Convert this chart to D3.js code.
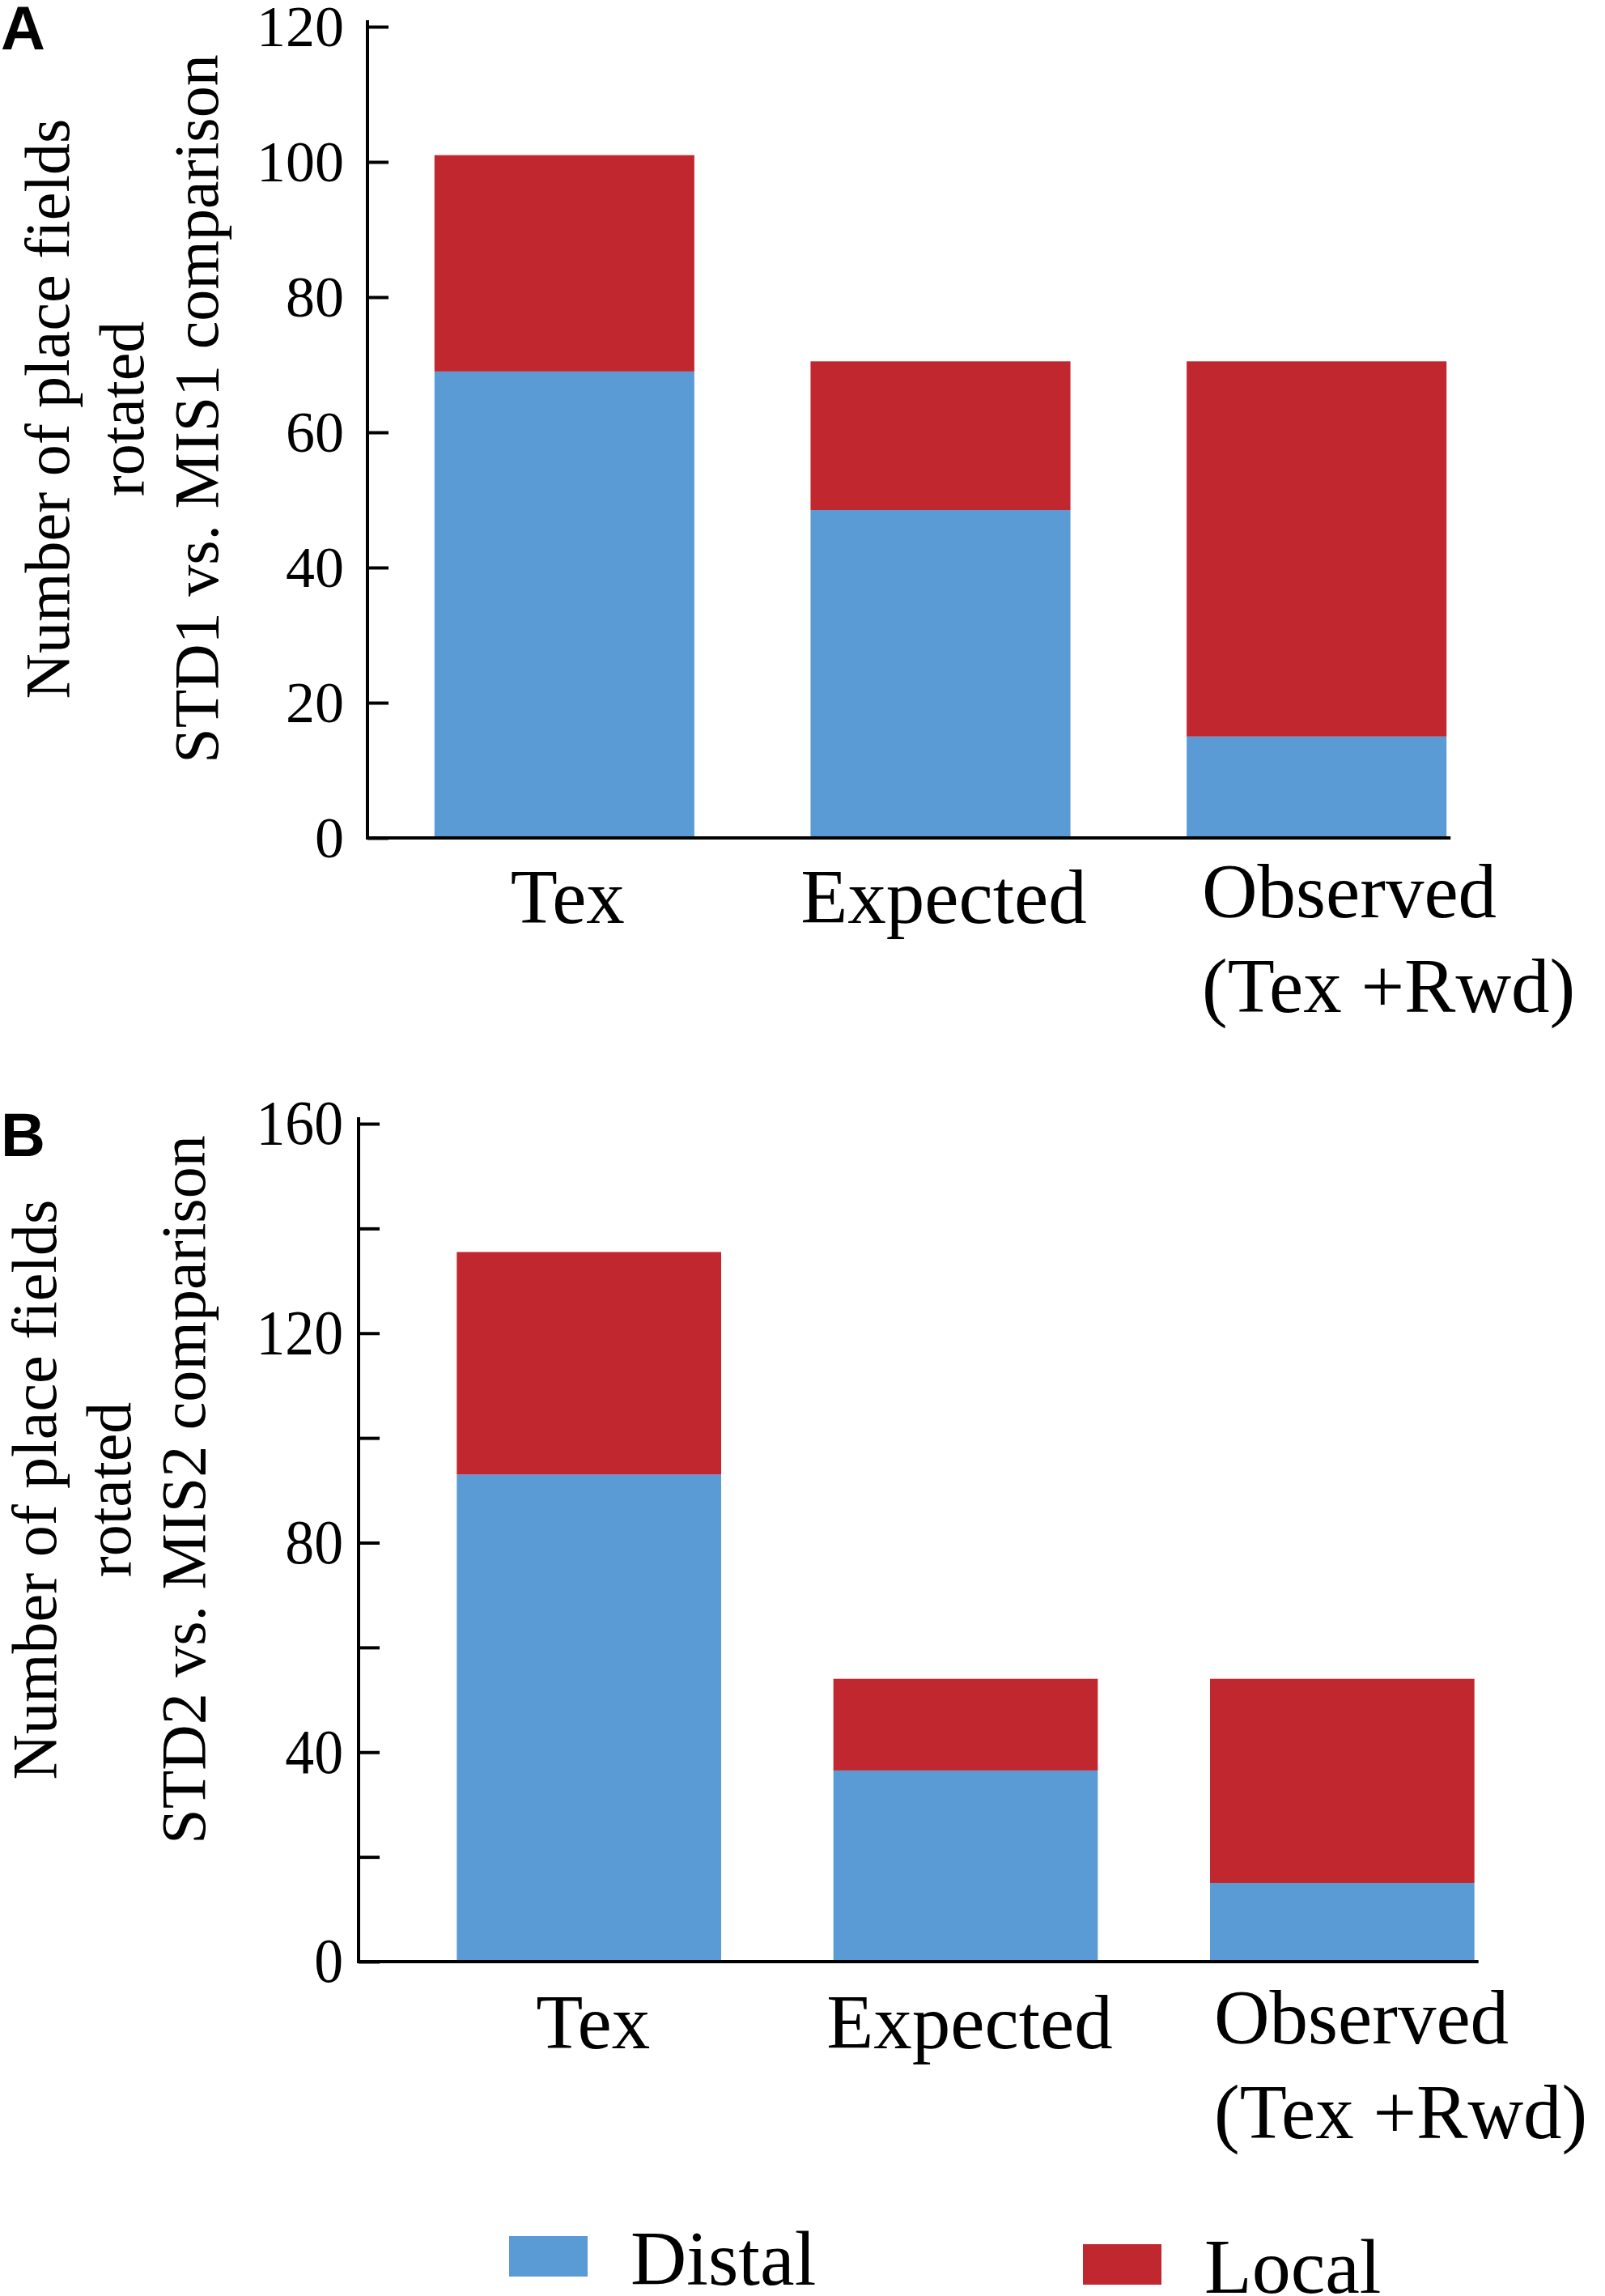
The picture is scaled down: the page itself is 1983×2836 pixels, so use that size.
<!DOCTYPE html>
<html>
<head>
<meta charset="utf-8">
<script src="https://cdn.jsdelivr.net/npm/d3@7"></script>
<style>
  html, body { margin: 0; padding: 0; background: #fff; }
  svg { display: block; }
  text { font-family: "Liberation Serif", "Times New Roman", serif; fill: #000; }
</style>
</head>
<body>
<svg id="chart" width="1983" height="2836"></svg>
<script>
// categories and series
var categories = ["Tex", "Expected", "Observed"];
var categoryLines = [["Tex"], ["Expected"], ["Observed", "(Tex +Rwd)"]];
var seriesNames = ["Distal", "Local"];
var seriesColors = ["#5b9bd5", "#c1272f"];

// panel A: STD1 vs. MIS1
var distalA = [69, 48.5, 15];
var localA = [32, 22, 55.5];
var ticksA = [0, 20, 40, 60, 80, 100, 120];
var titleA = ["Number of place fields", "rotated", "STD1 vs. MIS1 comparison"];

// panel B: STD2 vs. MIS2
var distalB = [93, 36.5, 15];
var localB = [42.5, 17.5, 39];
var ticksB = [0, 20, 40, 60, 80, 100, 120, 140, 160];
var labelsB = [0, 40, 80, 120, 160];
var titleB = ["Number of place fields", "rotated", "STD2 vs. MIS2 comparison"];

var svg = d3.select("#chart");

function drawPanel(p) {
	var g = svg.append("g");
	var rows = categories.map(function(c, i) {
		return { cat: c, Distal: p.distal[i], Local: p.local[i] };
	});
	var stacked = d3.stack().keys(seriesNames)(rows);

	var x = d3.scaleBand().domain(categories).range(p.xRange)
		.paddingInner(p.pad).paddingOuter(p.pad / 2);
	var y = d3.scaleLinear().domain([0, d3.max(p.ticks)]).range([p.y0, p.y1]);

	// bars
	g.selectAll(".layer").data(stacked).enter().append("g")
		.attr("fill", function(d, i) { return seriesColors[i]; })
		.selectAll("rect").data(function(d) { return d; }).enter().append("rect")
		.attr("x", function(d) { return x(d.data.cat); })
		.attr("width", x.bandwidth())
		.attr("y", function(d) { return y(d[1]); })
		.attr("height", function(d) { return y(d[0]) - y(d[1]); });

	// y axis, ticks pointing into the plot
	var axis = d3.axisLeft(y).tickValues(p.ticks)
		.tickSizeInner(-26).tickSizeOuter(0).tickPadding(p.labelGap)
		.tickFormat(function(v) { return p.labels.indexOf(v) >= 0 ? v : ""; });
	var ax = g.append("g").attr("transform", "translate(" + p.axisX + ",0)").call(axis);
	ax.select(".domain").remove();
	ax.selectAll(".tick line").attr("stroke", "#000").attr("stroke-width", 4);
	ax.selectAll(".tick text")
		.style("font-family", "Liberation Serif")
		.style("font-size", p.tickFont + "px")
		.attr("transform", "scale(" + p.tickSqueeze + ",1)")
		.attr("x", -p.labelGap / p.tickSqueeze);
	g.append("line")
		.attr("x1", p.axisX).attr("x2", p.axisX)
		.attr("y1", y(d3.max(p.ticks)) - 8).attr("y2", p.y0 + 2)
		.attr("stroke", "#000").attr("stroke-width", 4);
	// x baseline
	g.append("line")
		.attr("x1", p.axisX - 2).attr("x2", x(categories[2]) + x.bandwidth() + 5)
		.attr("y1", y(0)).attr("y2", y(0))
		.attr("stroke", "#000").attr("stroke-width", 4);

	// category labels
	categories.forEach(function(c, i) {
		var lines = categoryLines[i];
		var t = g.append("text").style("font-size", "95px");
		if (lines.length === 1) {
			t.attr("text-anchor", "middle")
				.attr("x", x(c) + x.bandwidth() / 2 + p.labelShift)
				.attr("y", p.catBaseline).text(lines[0]);
		} else {
			lines.forEach(function(l, j) {
				t.append("tspan").attr("x", p.multiX)
					.attr("y", p.multiBaseline + j * 117).text(l);
			});
		}
	});

	// rotated y title, three centred lines
	var tt = g.append("text")
		.attr("text-anchor", "middle")
		.attr("transform", "translate(0," + p.titleCy + ") rotate(-90)")
		.style("font-size", "78px");
	p.title.forEach(function(l, j) {
		tt.append("tspan").attr("x", 0).attr("y", p.titleX0 + j * p.titleStep).text(l);
	});

	// panel letter
	g.append("text").attr("x", 1).attr("y", p.letterY)
		.style("font-family", "Liberation Sans").style("font-weight", "bold")
		.style("font-size", "76px").text(p.letter);
}

drawPanel({
	letter: "A", letterY: 61,
	distal: distalA, local: localA, ticks: ticksA, labels: ticksA,
	xRange: [465, 1859], pad: 0.309,
	y0: 1035, y1: 33, axisX: 454,
	labelGap: 29, tickFont: 72, tickSqueeze: 1,
	catBaseline: 1140, labelShift: 4, multiX: 1485, multiBaseline: 1133,
	title: titleA, titleCy: 505, titleX0: 85, titleStep: 92
});

drawPanel({
	letter: "B", letterY: 1428,
	distal: distalB, local: localB, ticks: ticksB, labels: labelsB,
	xRange: [495, 1891], pad: 0.298,
	y0: 2423, y1: 1388, axisX: 443,
	labelGap: 19, tickFont: 78, tickSqueeze: 0.92,
	catBaseline: 2530, labelShift: 5, multiX: 1500, multiBaseline: 2524,
	title: titleB, titleCy: 1840, titleX0: 69, titleStep: 92
});

// legend
var legendX = [629, 1338];
var legendY = [2762, 2772];
var leg = svg.append("g").selectAll("g").data(seriesNames).enter().append("g");
leg.append("rect")
	.attr("x", function(d, i) { return legendX[i]; })
	.attr("y", function(d, i) { return legendY[i]; })
	.attr("width", 97).attr("height", 50)
	.attr("fill", function(d, i) { return seriesColors[i]; });
leg.append("text")
	.attr("x", function(d, i) { return legendX[i] + 150; })
	.attr("y", function(d, i) { return legendY[i] + 60; })
	.style("font-size", "96px")
	.text(function(d) { return d; });
</script>
</body>
</html>
